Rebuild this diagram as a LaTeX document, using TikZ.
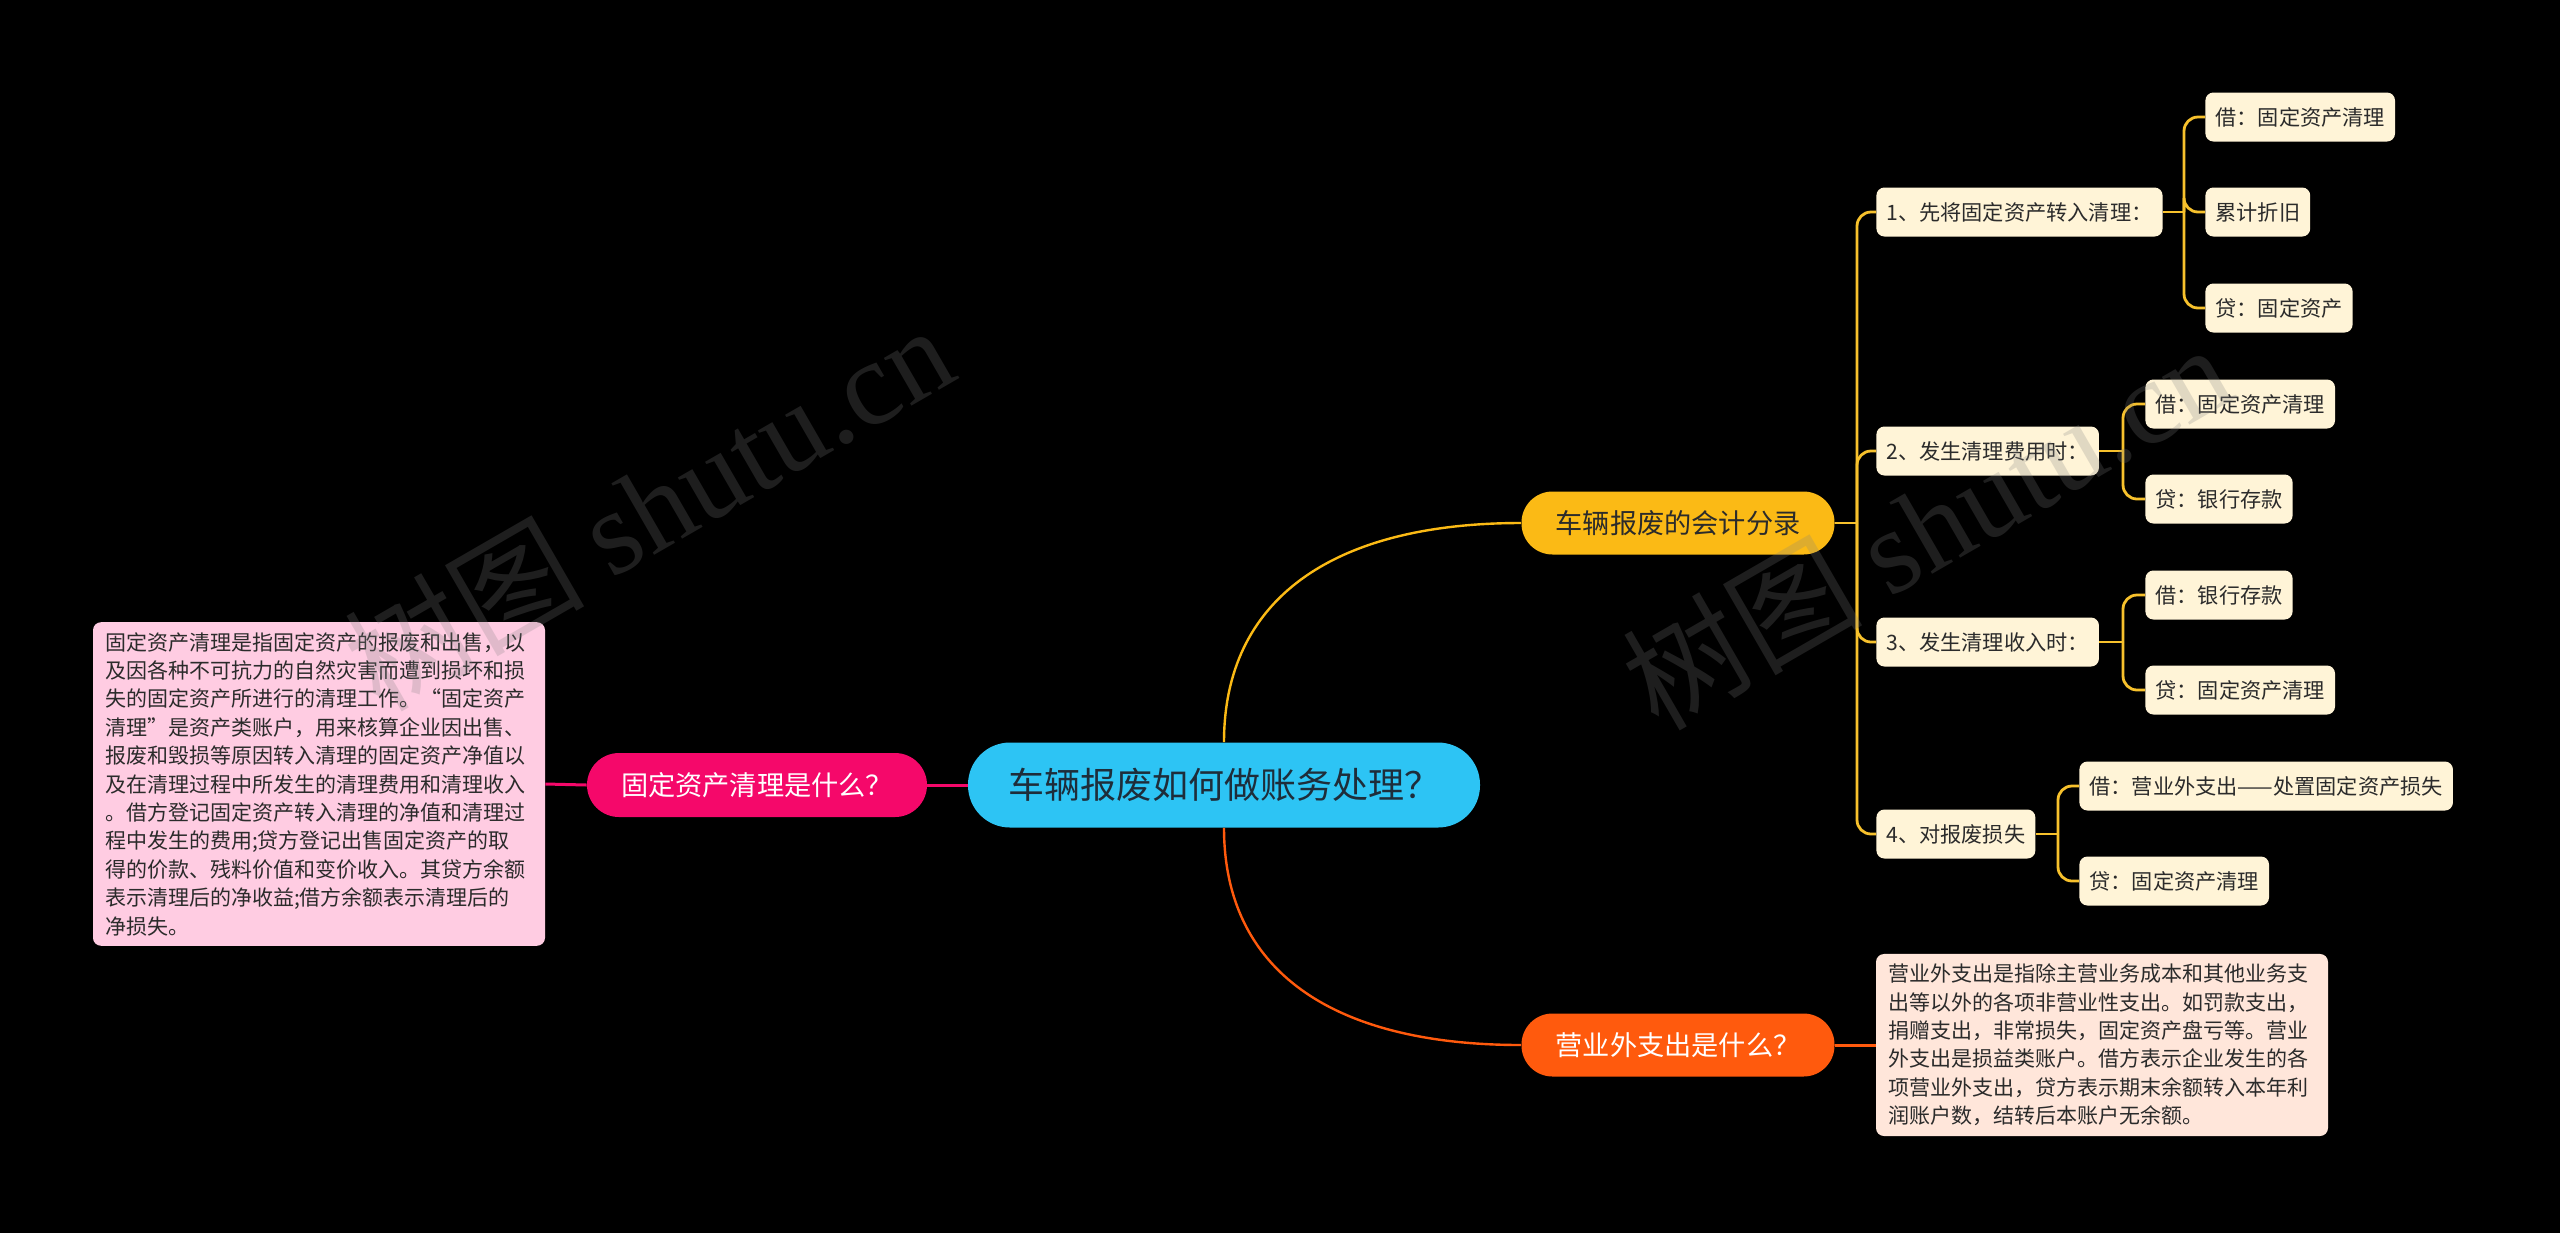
\documentclass[tikz,border=0pt]{standalone}
\usepackage{fontspec}
\setmainfont{Noto Sans CJK SC}
\newfontfamily\wmserif{Liberation Serif}
\usetikzlibrary{calc}
\usepackage{xcolor}
\definecolor{topblue}{HTML}{2DC4F4}
\definecolor{topink}{HTML}{1E2D3A}
\definecolor{qpink}{HTML}{F5086A}
\definecolor{qyellow}{HTML}{FBBA15}
\definecolor{qorange}{HTML}{FF5A0D}
\definecolor{leafcream}{HTML}{FFF4D7}
\definecolor{boxpink}{HTML}{FFCCE2}
\definecolor{boxpeach}{HTML}{FFE6DA}
\definecolor{inkdark}{HTML}{2B2B2B}
\definecolor{lineyellow}{HTML}{F7C12C}

\tikzset{
    leaf/.style={fill=leafcream,rounded corners=4pt,minimum height=24.5pt,inner xsep=5pt,inner ysep=0pt,
        font=\fontsize{10.6pt}{12pt}\selectfont,text=inkdark,anchor=west},
    branch/.style={draw=lineyellow,line width=1.4pt,rounded corners=7pt},
    pill/.style={minimum width=156.5pt,minimum height=31.5pt,rounded corners=15.5pt,inner sep=0pt,
        font=\fontsize{13.6pt}{15pt}\selectfont},
    notebox/.style={rounded corners=4pt,align=left,text width=214pt,inner xsep=6pt,inner ysep=5pt,
        font=\fontsize{10.5pt}{14.2pt}\selectfont,text=inkdark},
    watermark/.style={text=black!50,text opacity=0.24,rotate=30,font=\fontsize{60pt}{70pt}\selectfont}
}

\begin{document}
\begin{tikzpicture}[x=0.5pt,y=-0.5pt]
        \fill[black] (0,0) rectangle (2560,1233);
        \useasboundingbox (0,0) rectangle (2560,1233);
        \node[pill,fill=topblue,text=topink,minimum width=256pt,minimum height=42.5pt,rounded corners=21pt,
            font=\fontsize{18pt}{20pt}\selectfont] (car) at (1224,785) {车辆报废如何做账务处理？};
        \node[pill,fill=qpink,text=white,minimum width=170pt,minimum height=32pt,rounded corners=16pt] (clean) at (757,785) {固定资产清理是什么？};
        \node[notebox,fill=boxpink] (cleannote) at (319,784) {固定资产清理是指固定资产的报废和出售，以\\
            及因各种不可抗力的自然灾害而遭到损坏和损\\
            失的固定资产所进行的清理工作。“固定资产\\
            清理”是资产类账户，用来核算企业因出售、\\
            报废和毁损等原因转入清理的固定资产净值以\\
            及在清理过程中所发生的清理费用和清理收入\\
            。借方登记固定资产转入清理的净值和清理过\\
            程中发生的费用;贷方登记出售固定资产的取\\
            得的价款、残料价值和变价收入。其贷方余额\\
            表示清理后的净收益;借方余额表示清理后的\\
            净损失。};
        \node[pill,fill=qyellow,text=inkdark] (entry) at (1678,523) {车辆报废的会计分录};
        \node[pill,fill=qorange,text=white] (extra) at (1678,1045) {营业外支出是什么？};
        \node[notebox,fill=boxpeach] (extranote) at (2102,1045) {营业外支出是指除主营业务成本和其他业务支\\
            出等以外的各项非营业性支出。如罚款支出，\\
            捐赠支出，非常损失，固定资产盘亏等。营业\\
            外支出是损益类账户。借方表示企业发生的各\\
            项营业外支出，贷方表示期末余额转入本年利\\
            润账户数，结转后本账户无余额。};

        \draw[qpink,line width=1.5pt] (car.west) -- (clean.east);
        \draw[qpink,line width=1.5pt] (clean.west) -- (cleannote.east);
        \draw[qyellow,line width=1.2pt] (car.north) .. controls +(0,-142) and +(-190,0) .. (entry.west);
        \draw[qorange,line width=1.2pt] (car.south) .. controls +(0,142) and +(-190,0) .. (extra.west);
        \draw[qorange,line width=1.5pt] (extra.east) -- (extranote.west);

        \coordinate (jun) at (1857,523);
        \coordinate (k1) at (2184,212);
        \coordinate (k2) at (2123,451);
        \coordinate (k3) at (2123,642);
        \coordinate (k4) at (2058,834);
        \draw[branch] (entry.east) -- (jun);
        \foreach \nm/\y/\t in {s1/212/1、先将固定资产转入清理：,s2/451/2、发生清理费用时：,s3/642/3、发生清理收入时：,s4/834/4、对报废损失}{
            \node[leaf] (\nm) at (1876,\y) {\t};
            \draw[branch] (jun) |- (\nm.west);
        }
        \foreach \i in {1,...,4}{
            \draw[branch] (s\i.east) -- (k\i);
        }
        \foreach \nm/\k/\x/\y/\t in {s1a/k1/2205/117/借：固定资产清理,s1b/k1/2205/212/累计折旧,s1c/k1/2205/308/贷：固定资产,
            s2a/k2/2145/404/借：固定资产清理,s2b/k2/2145/499/贷：银行存款,
            s3a/k3/2145/595/借：银行存款,s3b/k3/2145/690/贷：固定资产清理,
            s4a/k4/2079/786/借：营业外支出——处置固定资产损失,s4b/k4/2079/881/贷：固定资产清理}{
            \node[leaf] (\nm) at (\x,\y) {\t};
            \draw[branch] (\k) |- (\nm.west);
        }

        \node[watermark] (wm1) at (648,506) {树图 {\wmserif shutu.cn}};
        \node[watermark] (wm2) at (1926,525) {树图 {\wmserif shutu.cn}};
    \end{tikzpicture}
\end{document}
